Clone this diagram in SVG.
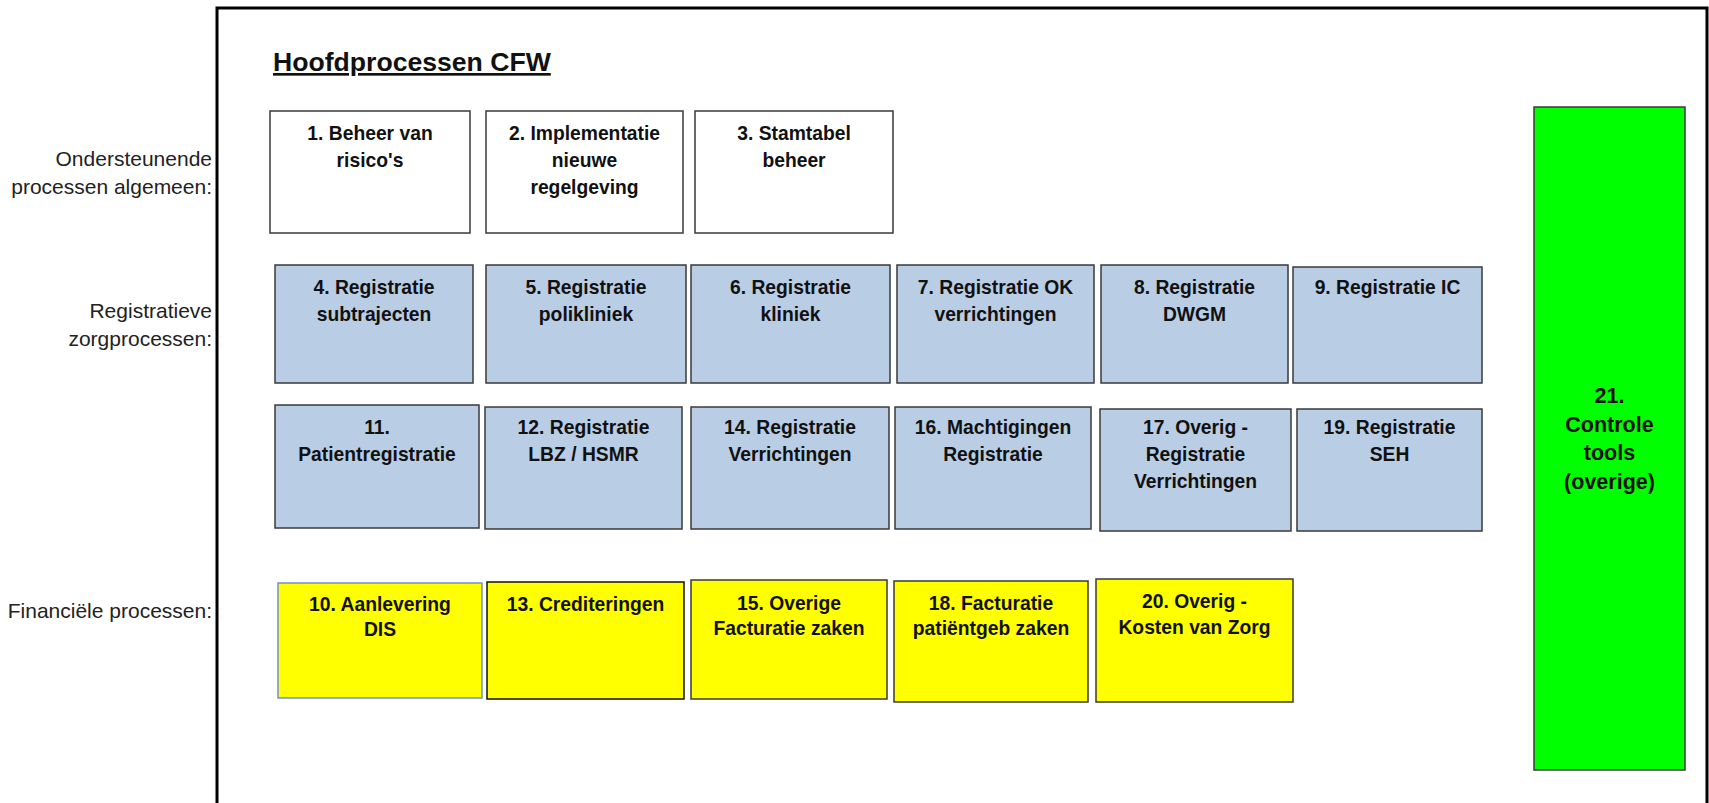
<svg xmlns="http://www.w3.org/2000/svg" width="1709" height="803" viewBox="0 0 1709 803">
<style>
.frame{fill:none;stroke:#000;stroke-width:3}
.box{stroke:#3a3a3a;stroke-width:1.5}
.w{fill:#fff}
.b{fill:#b9cde5}
.y{fill:#ffff00}
.g{fill:#00ff00}
.t{font-family:"Liberation Sans",Arial,sans-serif;font-weight:bold;font-size:19.3px;fill:#111;text-anchor:middle}
.tg{font-family:"Liberation Sans",Arial,sans-serif;font-weight:bold;font-size:21.5px;fill:#111;text-anchor:middle}
.lab{font-family:"Liberation Sans",Arial,sans-serif;font-size:21px;fill:#222;text-anchor:end}
.title{font-family:"Liberation Sans",Arial,sans-serif;font-weight:bold;font-size:26.6px;fill:#111;text-decoration:underline}
</style>
<rect class="frame" x="217" y="8" width="1490" height="830"/>
<text class="title" x="273" y="71">Hoofdprocessen CFW</text>
<g id="labels">
<text class="lab" x="212" y="166">Ondersteunende</text>
<text class="lab" x="212" y="194">processen algemeen:</text>
<text class="lab" x="212" y="318">Registratieve</text>
<text class="lab" x="212" y="346">zorgprocessen:</text>
<text class="lab" x="212" y="618">Financiële processen:</text>
</g>
<g id="n1"><rect class="box w" x="270" y="111" width="200" height="122"/><text class="t" x="370" y="140">1. Beheer van</text><text class="t" x="370" y="167">risico's</text></g>
<g id="n2"><rect class="box w" x="486" y="111" width="197" height="122"/><text class="t" x="584.5" y="140">2. Implementatie</text><text class="t" x="584.5" y="167">nieuwe</text><text class="t" x="584.5" y="194">regelgeving</text></g>
<g id="n3"><rect class="box w" x="695" y="111" width="198" height="122"/><text class="t" x="794" y="140">3. Stamtabel</text><text class="t" x="794" y="167">beheer</text></g>
<g id="n4"><rect class="box b" x="275" y="265" width="198" height="118"/><text class="t" x="374" y="294">4. Registratie</text><text class="t" x="374" y="321">subtrajecten</text></g>
<g id="n5"><rect class="box b" x="486" y="265" width="200" height="118"/><text class="t" x="586" y="294">5. Registratie</text><text class="t" x="586" y="321">polikliniek</text></g>
<g id="n6"><rect class="box b" x="691" y="265" width="199" height="118"/><text class="t" x="790.5" y="294">6. Registratie</text><text class="t" x="790.5" y="321">kliniek</text></g>
<g id="n7"><rect class="box b" x="897" y="265" width="197" height="118"/><text class="t" x="995.5" y="294">7. Registratie OK</text><text class="t" x="995.5" y="321">verrichtingen</text></g>
<g id="n8"><rect class="box b" x="1101" y="265" width="187" height="118"/><text class="t" x="1194.5" y="294">8. Registratie</text><text class="t" x="1194.5" y="321">DWGM</text></g>
<g id="n9"><rect class="box b" x="1293" y="267" width="189" height="116"/><text class="t" x="1387.5" y="294">9. Registratie IC</text></g>
<g id="n11"><rect class="box b" x="275" y="405" width="204" height="123"/><text class="t" x="377" y="434">11.</text><text class="t" x="377" y="461">Patientregistratie</text></g>
<g id="n12"><rect class="box b" x="485" y="407" width="197" height="122"/><text class="t" x="583.5" y="434">12. Registratie</text><text class="t" x="583.5" y="461">LBZ / HSMR</text></g>
<g id="n14"><rect class="box b" x="691" y="407" width="198" height="122"/><text class="t" x="790" y="434">14. Registratie</text><text class="t" x="790" y="461">Verrichtingen</text></g>
<g id="n16"><rect class="box b" x="895" y="407" width="196" height="122"/><text class="t" x="993" y="434">16. Machtigingen</text><text class="t" x="993" y="461">Registratie</text></g>
<g id="n17"><rect class="box b" x="1100" y="409" width="191" height="122"/><text class="t" x="1195.5" y="434">17. Overig -</text><text class="t" x="1195.5" y="461">Registratie</text><text class="t" x="1195.5" y="488">Verrichtingen</text></g>
<g id="n19"><rect class="box b" x="1297" y="409" width="185" height="122"/><text class="t" x="1389.5" y="434">19. Registratie</text><text class="t" x="1389.5" y="461">SEH</text></g>
<g id="n10"><rect class="y" x="278" y="583" width="204" height="115" stroke="#7391c4" stroke-width="1.5"/><text class="t" x="380" y="611">10. Aanlevering</text><text class="t" x="380" y="636">DIS</text></g>
<g id="n13"><rect class="box y" x="487" y="582" width="197" height="117" style="stroke:#111"/><text class="t" x="585.5" y="611">13. Crediteringen</text></g>
<g id="n15"><rect class="box y" x="691" y="580" width="196" height="119"/><text class="t" x="789" y="610">15. Overige</text><text class="t" x="789" y="635">Facturatie zaken</text></g>
<g id="n18"><rect class="box y" x="894" y="581" width="194" height="121"/><text class="t" x="991" y="610">18. Facturatie</text><text class="t" x="991" y="635">patiëntgeb zaken</text></g>
<g id="n20"><rect class="box y" x="1096" y="579" width="197" height="123"/><text class="t" x="1194.5" y="608">20. Overig -</text><text class="t" x="1194.5" y="634">Kosten van Zorg</text></g>
<g id="n21"><rect class="box g" x="1534" y="107" width="151" height="663"/><text class="tg" x="1609.5" y="403">21.</text><text class="tg" x="1609.5" y="432">Controle</text><text class="tg" x="1609.5" y="460">tools</text><text class="tg" x="1609.5" y="489">(overige)</text></g>
<g id="connectors"/>
</svg>
